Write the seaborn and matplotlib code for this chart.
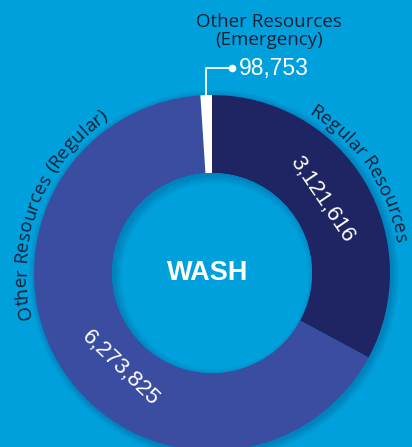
import numpy as np
import matplotlib
matplotlib.use("Agg")
import matplotlib.pyplot as plt
import seaborn as sns
from matplotlib.font_manager import FontProperties, findfont
from matplotlib.ft2font import FT2Font, LoadFlags
from matplotlib.patches import Wedge, Circle

# ---- data ----
categories = ["Regular Resources", "Other Resources (Regular)", "Other Resources (Emergency)"]
values = [3121616, 6273825, 98753]
value_labels = ["3,121,616", "6,273,825", "98,753"]
center_label = "WASH"

BG = "#00a0dc"
colors = ["#1e2562", "#3b4da0", "#ffffff"]
TXT = "#1c2038"
SHADOW = "#06285a"

sns.set_theme(style="white")
palette = sns.color_palette(colors)

W, H = 412, 447
fig = plt.figure(figsize=(W / 100, H / 100), dpi=100, facecolor=BG)
ax = fig.add_axes([0, 0, 1, 1])
ax.set_facecolor(BG)

cx, cy = 212, H - 273
R_out, R_in = 178, 100

# soft outer shadow
for k in range(7):
    ax.add_patch(Circle((cx + 2, cy - 2), R_out + 1 + k, color=SHADOW,
                        alpha=0.03, lw=0, zorder=0))

wedges, _ = ax.pie(values, colors=palette, startangle=90, counterclock=False,
                   radius=R_out, center=(cx, cy),
                   wedgeprops=dict(width=R_out - R_in, edgecolor="none"))
for w in wedges:
    w.set_zorder(1)
# hole background + subtle inner shadow (top-left)
hole = Circle((cx, cy), R_in, color=BG, lw=0, zorder=1.5)
ax.add_patch(hole)
for k in range(7):
    p = Wedge((cx + 3, cy - 3), R_in + 30, 0, 360, width=30 + k * 1.2, color=SHADOW,
              alpha=0.03, lw=0, zorder=1.6)
    ax.add_patch(p)
    p.set_clip_path(hole)

ax.set_xlim(0, W)
ax.set_ylim(0, H)
ax.set_aspect("auto")
ax.axis("off")

label_font = "Open Sans"
num_font = "Liberation Sans"

# value labels tangent to ring
label_angles = [34, -134]
for i in range(2):
    th = label_angles[i]
    r = 132
    x = cx + r * np.cos(np.radians(th))
    y = cy + r * np.sin(np.radians(th))
    rot = th - 90 if np.sin(np.radians(th)) > 0 else th + 90
    ax.text(x, y, value_labels[i], color="white", fontsize=16, family=num_font,
            rotation=rot, ha="center", va="center", rotation_mode="anchor", zorder=3)

# emergency leader
we = wedges[2]
mid_e = (we.theta1 + we.theta2) / 2
x0 = cx + R_out * np.cos(np.radians(mid_e))
y0 = cy + R_out * np.sin(np.radians(mid_e))
ly = H - 68
ax.plot([x0, x0, 232], [y0, ly, ly], color="white", lw=1.3, solid_capstyle="butt", zorder=3)
ax.plot([232], [ly], "o", color="white", ms=4.5, zorder=3)
ax.text(239, ly, value_labels[2], color="white", fontsize=16.5, family=num_font,
        ha="left", va="center", zorder=3)
ax.text(269, H - 31, "Other Resources\n(Emergency)", color=TXT, fontsize=13.5,
        family=label_font, ha="center", va="center", linespacing=1.0, zorder=3)

ax.text(208, H - 273, center_label, color="white", fontsize=19.5, family=num_font,
        weight="bold", ha="center", va="center", zorder=3)

# curved labels
font_path = findfont(FontProperties(family=label_font))

def advances(s, size):
    f = FT2Font(font_path)
    f.set_size(size, 100)
    out = []
    for ch in s:
        g = f.load_char(ord(ch), flags=LoadFlags.NO_HINTING)
        out.append(g.linearHoriAdvance / 65536.0)
    return out

def curved(s, mid_deg, r, size):
    adv = advances(s, size)
    total = sum(adv)
    pos = 0.0
    for ch, a in zip(s, adv):
        c = pos + a / 2
        pos += a
        th = mid_deg + (total / 2 - c) / r * 180 / np.pi
        x = cx + r * np.cos(np.radians(th))
        y = cy + r * np.sin(np.radians(th))
        ax.text(x, y, ch, color=TXT, fontsize=size, family=label_font,
                rotation=th - 90, ha="center", va="baseline",
                rotation_mode="anchor", zorder=3)

curved(categories[0], 34, 186, 13.5)
curved(categories[1], 159, 186, 13.5)

fig.savefig("out.png", dpi=100, facecolor=BG)
